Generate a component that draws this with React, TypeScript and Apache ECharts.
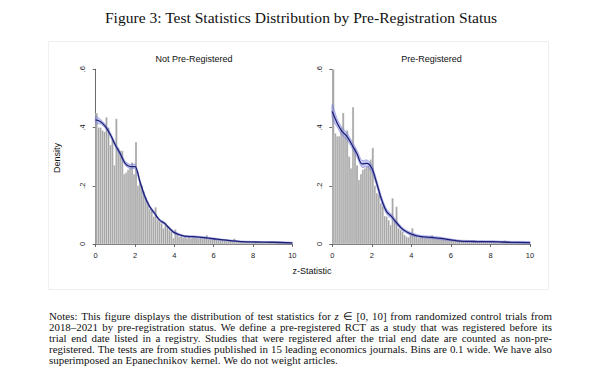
import React, { useEffect, useRef } from "react";
import * as echarts from "echarts";

// ---------- DATA ----------
const FIG_TITLE = "Figure 3: Test Statistics Distribution by Pre-Registration Status";
const PANEL_TITLES = ["Not Pre-Registered", "Pre-Registered"];
const X_LABEL = "z-Statistic";
const Y_LABEL = "Density";
const BIN_WIDTH = 0.1;

// histogram densities, bins [0,0.1), [0.1,0.2) ... [9.9,10)
const NOT_PREREG_BARS = [
  0.45, 0.40, 0.40, 0.39, 0.385, 0.435, 0.40, 0.34, 0.36, 0.27,
  0.43, 0.33, 0.32, 0.32, 0.24, 0.245, 0.255, 0.26, 0.28, 0.24,
  0.35, 0.20, 0.21, 0.20, 0.18, 0.16, 0.14, 0.12, 0.115, 0.094,
  0.126, 0.082, 0.077, 0.071, 0.054, 0.073, 0.062, 0.048, 0.042, 0.02,
  0.05, 0.031, 0.025, 0.027, 0.022, 0.025, 0.02, 0.024, 0.02, 0.022,
  0.024, 0.021, 0.019, 0.022, 0.018, 0.021, 0.03, 0.017, 0.019, 0.016,
  0.018, 0.015, 0.016, 0.013, 0.014, 0.012, 0.015, 0.011, 0.012, 0.01,
  0.018, 0.009, 0.01, 0.008, 0.009, 0.007, 0.008, 0.009, 0.007, 0.008,
  0.007, 0.008, 0.006, 0.007, 0.006, 0.007, 0.005, 0.006, 0.007, 0.005,
  0.006, 0.005, 0.006, 0.005, 0.004, 0.006, 0.005, 0.004, 0.005, 0.004,
];
const PREREG_BARS = [
  0.60, 0.38, 0.37, 0.37, 0.40, 0.45, 0.37, 0.39, 0.30, 0.26,
  0.47, 0.33, 0.27, 0.22, 0.24, 0.255, 0.26, 0.265, 0.27, 0.29,
  0.33, 0.20, 0.175, 0.17, 0.14, 0.13, 0.096, 0.094, 0.082, 0.065,
  0.157, 0.082, 0.128, 0.054, 0.048, 0.042, 0.031, 0.025, 0.023, 0.03,
  0.054, 0.03, 0.025, 0.02, 0.022, 0.025, 0.02, 0.023, 0.02, 0.022,
  0.03, 0.02, 0.019, 0.021, 0.018, 0.02, 0.017, 0.019, 0.016, 0.018,
  0.015, 0.012, 0.011, 0.01, 0.012, 0.009, 0.01, 0.011, 0.009, 0.01,
  0.009, 0.008, 0.01, 0.009, 0.008, 0.012, 0.008, 0.009, 0.007, 0.008,
  0.008, 0.007, 0.006, 0.007, 0.006, 0.007, 0.006, 0.012, 0.006, 0.005,
  0.006, 0.005, 0.006, 0.005, 0.005, 0.004, 0.005, 0.006, 0.004, 0.005,
];

// Epanechnikov kernel density estimates
const KDE_X = [0, 0.25, 0.5, 0.75, 1.0, 1.25, 1.5, 1.75, 2.0, 2.25, 2.5, 2.75, 3.0, 3.25, 3.5, 3.75, 4.0, 4.5, 5.0, 5.5, 6.0, 6.5, 7.0, 7.5, 8.0, 9.0, 10.0];
const NOT_PREREG_KDE = [0.426, 0.42, 0.403, 0.375, 0.34, 0.31, 0.277, 0.266, 0.266, 0.214, 0.163, 0.128, 0.105, 0.082, 0.071, 0.054, 0.039, 0.027, 0.025, 0.022, 0.018, 0.014, 0.011, 0.008, 0.007, 0.006, 0.004];
const NOT_PREREG_BAND = [0.012, 0.008, 0.007, 0.007, 0.007, 0.007, 0.007, 0.007, 0.008, 0.007, 0.006, 0.005, 0.005, 0.004, 0.004, 0.004, 0.004, 0.003, 0.003, 0.003, 0.003, 0.002, 0.002, 0.002, 0.002, 0.002, 0.002];
const PREREG_KDE = [0.455, 0.415, 0.386, 0.369, 0.34, 0.31, 0.275, 0.277, 0.26, 0.208, 0.151, 0.111, 0.094, 0.073, 0.054, 0.042, 0.034, 0.025, 0.023, 0.019, 0.014, 0.01, 0.009, 0.008, 0.008, 0.006, 0.005];
const PREREG_BAND = [0.025, 0.014, 0.013, 0.012, 0.012, 0.012, 0.012, 0.012, 0.012, 0.011, 0.01, 0.009, 0.008, 0.007, 0.006, 0.005, 0.005, 0.004, 0.004, 0.004, 0.003, 0.003, 0.003, 0.003, 0.003, 0.003, 0.003];

const X_TICKS = { min: 0, max: 10, interval: 2 };
const Y_TICKS = { min: 0, max: 0.6, interval: 0.2 };

const NOTE_LINES = [
  "Notes: This figure displays the distribution of test statistics for z ∈ [0, 10] from randomized control trials from",
  "2018–2021 by pre-registration status. We define a pre-registered RCT as a study that was registered before its",
  "trial end date listed in a registry. Studies that were registered after the trial end date are counted as non-pre-",
  "registered. The tests are from studies published in 15 leading economics journals. Bins are 0.1 wide. We have also",
  "superimposed an Epanechnikov kernel. We do not weight articles.",
];

// ---------- STYLE / LAYOUT ----------
const SANS = "Liberation Sans";
const SERIF = "Liberation Serif";
const GRIDS = [
  { left: 95.7, top: 69.3, width: 196.6, height: 174.7 },
  { left: 332.3, top: 69.3, width: 197.7, height: 174.7 },
];
const TITLE_WIDTH = 393;
const TITLE_FS = 15;
const NOTE_LEFT = 49;
const NOTE_RIGHT = 552;
const NOTE_TOP = 316;
const NOTE_LEAD = 10.9;
const NOTE_LAST_WIDTH = 288;

const measureCtx = (() => {
  const c = document.createElement("canvas");
  return c.getContext("2d") as CanvasRenderingContext2D;
})();
function measure(w: string, fs: number, family: string, italic = false) {
  measureCtx.font = `${italic ? "italic " : ""}${fs}px "${family}"`;
  return measureCtx.measureText(w).width;
}

function buildNotes(): any[] {
  const target = NOTE_RIGHT - NOTE_LEFT;
  const lastLine = NOTE_LINES[NOTE_LINES.length - 1];
  let fs = (10 * NOTE_LAST_WIDTH) / measure(lastLine, 10, SERIF);
  // keep a minimal word gap on the longest line
  NOTE_LINES.slice(0, -1).forEach((l) => {
    const words = l.split(" ");
    const wsum = words.reduce((a, w) => a + measure(w, 10, SERIF, w === "z"), 0);
    const maxFs = (10 * (target - (words.length - 1) * 1.8)) / wsum;
    fs = Math.min(fs, maxFs);
  });
  const out: any[] = [];
  NOTE_LINES.forEach((line, li) => {
    const words = line.split(" ");
    const widths = words.map((w) => measure(w, fs, SERIF, w === "z"));
    const sum = widths.reduce((a, b) => a + b, 0);
    const last = li === NOTE_LINES.length - 1;
    const gap = last ? measure(" ", fs, SERIF) * 1.05 : (target - sum) / (words.length - 1);
    let x = NOTE_LEFT;
    const y = NOTE_TOP + li * NOTE_LEAD;
    words.forEach((w, wi) => {
      out.push({
        type: "text",
        x,
        y,
        silent: true,
        style: {
          text: w,
          fontFamily: SERIF,
          fontSize: fs,
          fontStyle: w === "z" ? "italic" : "normal",
          fill: "#111",
          textVerticalAlign: "middle",
          textAlign: "left",
        },
      });
      x += widths[wi] + gap;
    });
  });
  return out;
}

function barSeries(values: number[], g: number) {
  return {
    type: "custom",
    xAxisIndex: g,
    yAxisIndex: g,
    encode: { x: 0, y: 1 },
    data: values.map((v, i) => [i * BIN_WIDTH, v]),
    renderItem: (params: any, api: any) => {
      const x0 = api.value(0);
      const y = api.value(1);
      const a = api.coord([x0, y]);
      const b = api.coord([x0 + BIN_WIDTH, 0]);
      return {
        type: "rect",
        shape: { x: a[0], y: a[1], width: b[0] - a[0], height: b[1] - a[1] },
        style: { fill: "#a4a4a4", stroke: "#f4f4f4", lineWidth: 0.35 },
      };
    },
    silent: true,
    z: 1,
  };
}

function bandSeries(kde: number[], band: number[], g: number) {
  return {
    type: "custom",
    xAxisIndex: g,
    yAxisIndex: g,
    encode: { x: 0, y: 1 },
    data: [[KDE_X[0], kde[0]]],
    renderItem: (params: any, api: any) => {
      const upper = KDE_X.map((x, i) => api.coord([x, kde[i] + band[i]]));
      const lower = KDE_X.map((x, i) => api.coord([x, Math.max(0, kde[i] - band[i])])).reverse();
      return {
        type: "group",
        children: [
          {
            type: "polygon",
            shape: { points: upper.concat(lower), smooth: 0.25 },
            style: { fill: "rgba(140,145,225,0.5)", stroke: "rgba(115,120,210,0.8)", lineWidth: 0.6 },
          },
        ],
      };
    },
    silent: true,
    z: 2,
  };
}

function kdeSeries(kde: number[], g: number) {
  return {
    type: "line",
    xAxisIndex: g,
    yAxisIndex: g,
    smooth: 0.3,
    symbol: "none",
    data: KDE_X.map((x, i) => [x, kde[i]]),
    lineStyle: { width: 1.3, color: "#1d2076" },
    silent: true,
    z: 4,
  };
}

function xAxis(g: number) {
  return {
    gridIndex: g,
    type: "value",
    ...X_TICKS,
    offset: 3,
    axisLine: { show: true, lineStyle: { color: "#444", width: 0.8 } },
    axisTick: { show: true, length: 3, lineStyle: { color: "#444", width: 0.8 } },
    axisLabel: { fontSize: 7.5, color: "#222", margin: 4, fontFamily: SANS },
    splitLine: { show: false },
  };
}

function yAxis(g: number) {
  return {
    gridIndex: g,
    type: "value",
    ...Y_TICKS,
    offset: 4,
    axisLine: { show: true, lineStyle: { color: "#444", width: 0.8 } },
    axisTick: { show: true, length: 3, lineStyle: { color: "#444", width: 0.8 } },
    axisLabel: {
      fontSize: 7.5,
      color: "#222",
      margin: 5,
      rotate: 90,
      fontFamily: SANS,
      formatter: (v: number) => (v === 0 ? "0" : "." + Math.round(v * 10)),
    },
    splitLine: { show: false },
  };
}

export default function App() {
  const ref = useRef<HTMLDivElement>(null);
  useEffect(() => {
    if (!ref.current) return;
    const chart = echarts.init(ref.current, null, { renderer: "svg" });
    const titleScale = TITLE_WIDTH / measure(FIG_TITLE, TITLE_FS, SERIF);
    const option: any = {
      animation: false,
      backgroundColor: "#ffffff",
      grid: GRIDS.map((g) => ({ ...g, containLabel: false })),
      xAxis: [xAxis(0), xAxis(1)],
      yAxis: [yAxis(0), yAxis(1)],
      series: [
        barSeries(NOT_PREREG_BARS, 0),
        bandSeries(NOT_PREREG_KDE, NOT_PREREG_BAND, 0),
        kdeSeries(NOT_PREREG_KDE, 0),
        barSeries(PREREG_BARS, 1),
        bandSeries(PREREG_KDE, PREREG_BAND, 1),
        kdeSeries(PREREG_KDE, 1),
      ],
      graphic: [
        {
          type: "rect",
          silent: true,
          shape: { x: 48.5, y: 41.5, width: 500, height: 248 },
          style: { fill: "none", stroke: "#efefef", lineWidth: 1 },
          z: -1,
        },
        {
          type: "text",
          x: 301,
          y: 18,
          scaleX: titleScale,
          silent: true,
          style: {
            text: FIG_TITLE,
            fontFamily: SERIF,
            fontSize: TITLE_FS,
            fill: "#111",
            textAlign: "center",
            textVerticalAlign: "middle",
          },
        },
        {
          type: "text",
          x: 194,
          y: 59,
          silent: true,
          style: { text: PANEL_TITLES[0], fontFamily: SANS, fontSize: 9, fill: "#111", textAlign: "center", textVerticalAlign: "middle" },
        },
        {
          type: "text",
          x: 431.5,
          y: 59,
          silent: true,
          style: { text: PANEL_TITLES[1], fontFamily: SANS, fontSize: 9, fill: "#111", textAlign: "center", textVerticalAlign: "middle" },
        },
        {
          type: "text",
          x: 57,
          y: 158,
          rotation: Math.PI / 2,
          silent: true,
          style: { text: Y_LABEL, fontFamily: SANS, fontSize: 9, fill: "#111", textAlign: "center", textVerticalAlign: "middle" },
        },
        {
          type: "text",
          x: 312,
          y: 271,
          silent: true,
          style: { text: X_LABEL, fontFamily: SANS, fontSize: 9, fill: "#111", textAlign: "center", textVerticalAlign: "middle" },
        },
        ...buildNotes(),
      ],
    };
    chart.setOption(option);
    return () => chart.dispose();
  }, []);
  return (
    <div
      ref={ref}
      style={{ position: "absolute", left: 0, top: 0, width: 600, height: 371, background: "#fff" }}
    />
  );
}
